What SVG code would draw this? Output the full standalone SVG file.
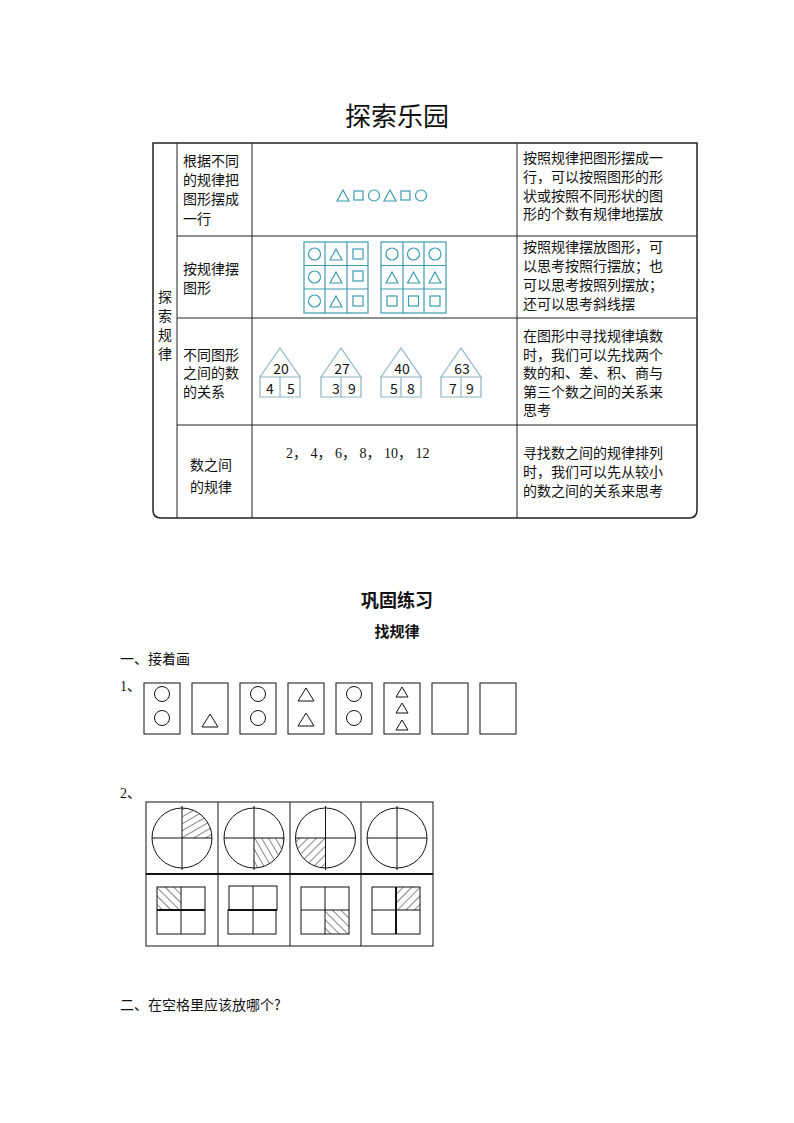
<svg xmlns="http://www.w3.org/2000/svg" width="794" height="1123" viewBox="0 0 794 1123">
<style>
text{font-family:"Noto Sans CJK SC","Noto Sans",sans-serif;fill:#111}
.t{font-size:14px}
.s{font-family:"Liberation Serif","Noto Sans CJK SC",serif;font-size:14px}
.k{fill:none;stroke:#111;stroke-width:1}
.c{fill:none;stroke:#3a9cb0;stroke-width:1.2}
.h{fill:none;stroke:#8fb4c4;stroke-width:1.2}
</style>
<defs>
<pattern id="p1" width="6" height="6" patternUnits="userSpaceOnUse" patternTransform="rotate(-30)"><line x1="0" y1="0" x2="6" y2="0" stroke="#111" stroke-width="1"/></pattern>
<pattern id="p2" width="6" height="6" patternUnits="userSpaceOnUse" patternTransform="rotate(60)"><line x1="0" y1="0" x2="6" y2="0" stroke="#111" stroke-width="1"/></pattern>
<pattern id="p3" width="6" height="6" patternUnits="userSpaceOnUse" patternTransform="rotate(-45)"><line x1="0" y1="0" x2="6" y2="0" stroke="#111" stroke-width="1"/></pattern>
<pattern id="p4" width="6" height="6" patternUnits="userSpaceOnUse" patternTransform="rotate(45)"><line x1="0" y1="0" x2="6" y2="0" stroke="#111" stroke-width="1"/></pattern>
</defs>
<text x="397" y="126" font-size="26" text-anchor="middle">探索乐园</text>
<g id="table">
<path d="M153,143 H697 V510 Q697,518 689,518 H161 Q153,518 153,510 Z" fill="none" stroke="#222" stroke-width="1.5"/>
<g stroke="#222" stroke-width="1">
<line x1="177" y1="143" x2="177" y2="518"/><line x1="252" y1="143" x2="252" y2="518"/><line x1="517" y1="143" x2="517" y2="518"/>
<line x1="177" y1="236" x2="697" y2="236"/><line x1="177" y1="318" x2="697" y2="318"/><line x1="177" y1="425" x2="697" y2="425"/>
</g>
<g class="t"><text x="158" y="302">探</text><text x="158" y="321">索</text><text x="158" y="340">规</text><text x="158" y="359">律</text></g>
<g class="t"><text x="183" y="166">根据不同</text><text x="183" y="185">的规律把</text><text x="183" y="204">图形摆成</text><text x="183" y="224">一行</text>
<text x="183" y="274">按规律摆</text><text x="183" y="293">图形</text>
<text x="183" y="360">不同图形</text><text x="183" y="378">之间的数</text><text x="183" y="397">的关系</text>
<text x="190" y="470">数之间</text><text x="190" y="492">的规律</text></g>
<g class="t"><text x="523" y="163">按照规律把图形摆成一</text><text x="523" y="182">行，可以按照图形的形</text><text x="523" y="201">状或按照不同形状的图</text><text x="523" y="219">形的个数有规律地摆放</text>
<text x="523" y="252">按照规律摆放图形，可</text><text x="523" y="271">以思考按照行摆放；也</text><text x="523" y="290">可以思考按照列摆放；</text><text x="523" y="309">还可以思考斜线摆</text>
<text x="523" y="341">在图形中寻找规律填数</text><text x="523" y="360">时，我们可以先找两个</text><text x="523" y="378">数的和、差、积、商与</text><text x="523" y="397">第三个数之间的关系来</text><text x="523" y="415">思考</text>
<text x="523" y="458">寻找数之间的规律排列</text><text x="523" y="477">时，我们可以先从较小</text><text x="523" y="496">的数之间的关系来思考</text></g>
<g id="row1shapes" class="c">
<path d="M337,201 L343,190 L349,201 Z"/><rect x="354" y="191" width="9" height="9"/><circle cx="374" cy="195.5" r="5.5"/><path d="M384,201 L390,190 L396,201 Z"/><rect x="401" y="191" width="9" height="9"/><circle cx="421" cy="195.5" r="5.5"/>
</g>
<g id="grid1" class="c">
<rect x="304" y="242" width="64" height="71"/><line x1="325" y1="242" x2="325" y2="313"/><line x1="347" y1="242" x2="347" y2="313"/><line x1="304" y1="265.5" x2="368" y2="265.5"/><line x1="304" y1="289" x2="368" y2="289"/>
<circle cx="314.5" cy="254" r="6"/><circle cx="314.5" cy="277" r="6"/><circle cx="314.5" cy="301" r="6"/>
<path d="M330,260 L336,249 L342,260 Z"/><path d="M330,283 L336,272 L342,283 Z"/><path d="M330,307 L336,296 L342,307 Z"/>
<rect x="353" y="249" width="10" height="10"/><rect x="353" y="271" width="10" height="10"/><rect x="353" y="296" width="10" height="10"/>
</g>
<g id="grid2" class="c">
<rect x="381" y="242" width="65" height="71"/><line x1="403" y1="242" x2="403" y2="313"/><line x1="424" y1="242" x2="424" y2="313"/><line x1="381" y1="265.5" x2="446" y2="265.5"/><line x1="381" y1="289" x2="446" y2="289"/>
<circle cx="392" cy="254" r="6"/><circle cx="413.5" cy="254" r="6"/><circle cx="435" cy="254" r="6"/>
<path d="M386,283 L392,272 L398,283 Z"/><path d="M407.5,283 L413.5,272 L419.5,283 Z"/><path d="M429,283 L435,272 L441,283 Z"/>
<rect x="387" y="296" width="10" height="10"/><rect x="408.5" y="296" width="10" height="10"/><rect x="430" y="296" width="10" height="10"/>
</g>
<g id="houses">
<g class="h"><path d="M260,377 L280,348 L300,377 Z M260,377 H300 V397 H260 Z M280,377 V397"/>
<path d="M321,377 L341,348 L361,377 Z M321,377 H361 V397 H321 Z M341,377 V397"/>
<path d="M381,377 L401,348 L421,377 Z M381,377 H421 V397 H381 Z M401,377 V397"/>
<path d="M441,377 L461,348 L481,377 Z M441,377 H481 V397 H441 Z M461,377 V397"/></g>
<g class="s" text-anchor="middle"><text x="281" y="374">20</text><text x="342" y="374">27</text><text x="402" y="374">40</text><text x="462" y="374">63</text>
<text x="270" y="394">4</text><text x="291" y="394">5</text><text x="336" y="394">3</text><text x="352" y="394">9</text><text x="394" y="394">5</text><text x="411" y="394">8</text><text x="453" y="394">7</text><text x="470" y="394">9</text></g>
</g>
<text x="286" y="458" class="s">2， 4， 6， 8， 10， 12</text>
</g>
<text x="397" y="607" font-size="18" font-weight="bold" text-anchor="middle">巩固练习</text>
<text x="397" y="637" font-size="15" font-weight="bold" text-anchor="middle">找规律</text>
<text x="120" y="664" font-size="14">一、接着画</text>
<text x="120" y="691" font-size="14" class="s">1、</text>
<g id="ex1" class="k">
<rect x="144" y="683" width="36" height="51"/><rect x="192" y="683" width="36" height="51"/><rect x="240" y="683" width="36" height="51"/><rect x="288" y="683" width="36" height="51"/><rect x="336" y="683" width="36" height="51"/><rect x="384" y="683" width="36" height="51"/><rect x="432" y="683" width="36" height="51"/><rect x="480" y="683" width="36" height="51"/>
<circle cx="162" cy="694" r="7.5"/><circle cx="162" cy="718" r="7.5"/>
<path d="M202,727 L210,714 L218,727 Z"/>
<circle cx="258" cy="694" r="7.5"/><circle cx="258" cy="718" r="7.5"/>
<path d="M298,701 L306,688 L314,701 Z"/><path d="M298,726 L306,713 L314,726 Z"/>
<circle cx="354" cy="694" r="7.5"/><circle cx="354" cy="718" r="7.5"/>
<path d="M396,697 L402,687 L408,697 Z"/><path d="M396,713 L402,703 L408,713 Z"/><path d="M396,730 L402,720 L408,730 Z"/>
</g>
<text x="120" y="798" class="s">2、</text>
<g id="ex2">
<g class="k"><rect x="146" y="802" width="287" height="144"/><line x1="218" y1="802" x2="218" y2="946"/><line x1="290" y1="802" x2="290" y2="946"/><line x1="361" y1="802" x2="361" y2="946"/></g>
<line x1="146" y1="874" x2="433" y2="874" stroke="#111" stroke-width="2"/>
<path d="M182,838 L182,808 A30,30 0 0 1 212,838 Z" fill="url(#p1)"/>
<path d="M254,838 L284,838 A30,30 0 0 1 254,868 Z" fill="url(#p2)"/>
<path d="M325.5,838 L325.5,868 A30,30 0 0 1 295.5,838 Z" fill="url(#p3)"/>
<g class="k">
<circle cx="182" cy="838" r="30"/><line x1="152" y1="838" x2="212" y2="838"/><line x1="182" y1="806" x2="182" y2="870"/>
<circle cx="254" cy="838" r="30"/><line x1="224" y1="838" x2="284" y2="838"/><line x1="254" y1="806" x2="254" y2="870"/>
<circle cx="325.5" cy="838" r="30"/><line x1="295.5" y1="838" x2="355.5" y2="838"/><line x1="325.5" y1="806" x2="325.5" y2="870"/>
<circle cx="397" cy="838" r="30"/><line x1="367" y1="838" x2="427" y2="838"/><line x1="397" y1="806" x2="397" y2="870"/>
</g>
<rect x="157" y="887" width="24" height="23" fill="url(#p4)"/>
<rect x="325" y="910" width="24" height="24" fill="url(#p4)"/>
<rect x="396" y="887" width="24" height="23" fill="url(#p3)"/>
<g class="k">
<rect x="157" y="887" width="48" height="47"/><line x1="181" y1="887" x2="181" y2="934"/>
<rect x="229" y="886" width="48" height="24"/><rect x="228" y="910" width="48" height="24"/><line x1="253" y1="886" x2="253" y2="934"/>
<rect x="301" y="887" width="48" height="47"/><line x1="325" y1="887" x2="325" y2="934"/><line x1="301" y1="910" x2="349" y2="910"/>
<rect x="372" y="887" width="48" height="47"/><line x1="372" y1="910" x2="420" y2="910"/>
</g>
<line x1="157" y1="910" x2="205" y2="910" stroke="#111" stroke-width="2"/>
<line x1="228" y1="910" x2="277" y2="910" stroke="#111" stroke-width="2"/>
<line x1="396" y1="887" x2="396" y2="934" stroke="#111" stroke-width="2"/>
</g>
<text x="120" y="1010" font-size="14">二、在空格里应该放哪个?</text>
</svg>
